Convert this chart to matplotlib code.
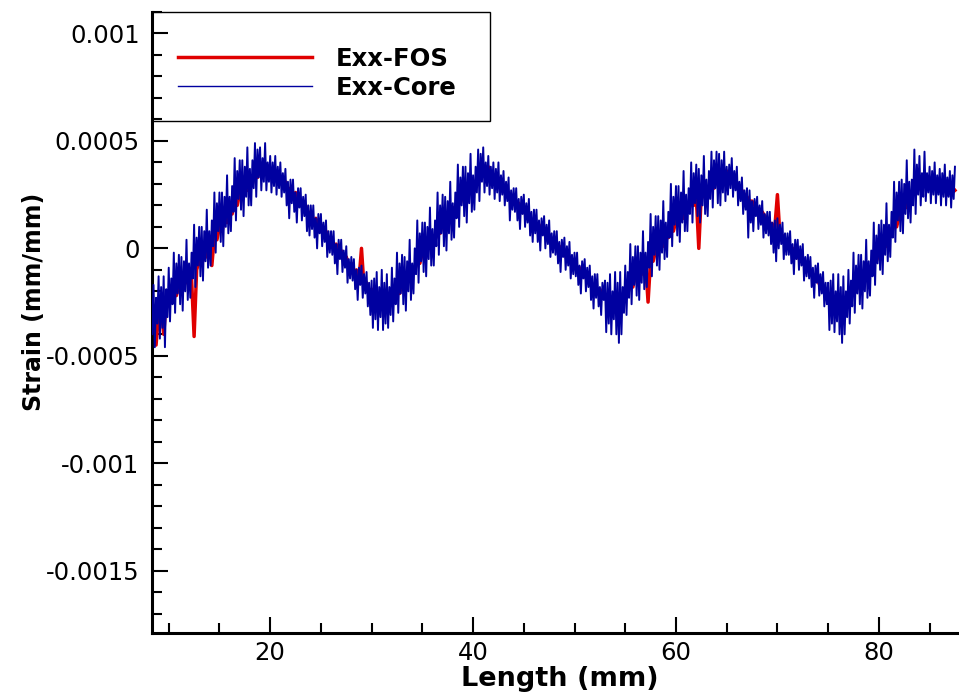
"""
Strain along the sample: fibre optic sensor (FOS) vs. core strain (Exx)
"""

import numpy as np
import matplotlib
matplotlib.use('Agg')
import matplotlib.pyplot as plt
from matplotlib.patches import Rectangle
from matplotlib.ticker import MultipleLocator

# sample positions (mm)
length_core_mm = np.arange(8.125, 87.51, 0.125)   # 8 samples per mm
length_fos_mm = np.arange(8.25, 87.51, 0.25)      # 4 samples per mm

# Exx-Core, in 1e-4 mm/mm, one row per mm (n+1/8 ... n+1)
exx_core_e4 = [
    -4.6, -2.1, -4.0, -1.7, -4.6, -2.3, -3.5, -1.3,    # 8
    -4.2, -1.8, -3.7, -1.3, -4.6, -1.9, -3.2, -0.9,    # 9
    -3.4, -1.4, -2.6, -0.2, -3.0, -0.7, -2.1, -0.3,    # 10
    -2.6, -0.4, -2.9, -0.6, -2.0, 0.4, -2.4, -0.7,     # 11
    -2.3, -0.2, -1.4, 1.1, -1.8, 0.5, -0.8, 1.0,       # 12
    -1.3, 1.0, -1.5, 0.8, -0.6, 1.8, -0.9, 0.8,        # 13
    -0.8, 1.3, 0.1, 2.6, -0.2, 2.1, 0.8, 2.6,          # 14
    0.3, 2.6, 0.1, 2.4, 1.0, 3.4, 0.7, 2.4,            # 15
    0.8, 2.9, 1.7, 4.2, 1.3, 3.6, 2.3, 4.1,            # 16
    1.8, 4.1, 1.5, 3.8, 2.4, 4.7, 2.0, 3.7,            # 17
    2.0, 4.1, 2.8, 4.9, 2.4, 4.6, 3.3, 4.7,            # 18
    2.7, 4.2, 3.1, 4.9, 2.7, 4.0, 3.1, 4.3,            # 19
    2.6, 4.0, 2.9, 4.3, 2.5, 3.8, 2.8, 4.0,            # 20
    2.4, 3.5, 2.6, 3.7, 2.0, 3.1, 1.4, 3.2,            # 21
    2.1, 3.2, 1.7, 2.6, 1.2, 2.8, 1.9, 2.8,            # 22
    1.3, 2.4, 1.5, 2.5, 0.8, 2.0, 0.6, 2.0,            # 23
    0.9, 2.0, 0.5, 1.4, 0.0, 1.6, 0.7, 1.6,            # 24
    0.1, 1.2, 0.3, 1.3, -0.4, 0.8, -0.2, 0.8,          # 25
    -0.3, 0.8, -0.7, 0.2, -1.2, 0.4, -0.5, 0.4,        # 26
    -1.1, -0.1, -0.9, 0.1, -1.6, -0.5, -1.4, -0.4,     # 27
    -1.5, -0.5, -1.9, -1.0, -2.4, -0.9, -1.7, -0.8,    # 28
    -2.3, -1.2, -2.1, -1.1, -2.7, -1.6, -3.1, -1.5,    # 29
    -3.7, -1.4, -3.3, -1.1, -3.8, -1.8, -3.2, -1.0,    # 30
    -3.8, -1.6, -3.5, -1.2, -3.7, -1.8, -3.1, -0.9,    # 31
    -3.4, -1.4, -2.6, -0.2, -3.0, -0.7, -2.1, -0.3,    # 32
    -2.6, -0.4, -2.9, -0.6, -2.0, 0.4, -2.4, -0.7,     # 33
    -2.1, 0.0, -1.2, 1.3, -1.6, 0.7, -0.6, 1.2,        # 34
    -1.1, 1.2, -1.3, 1.0, -0.5, 1.9, -0.8, 0.9,        # 35
    -0.8, 1.3, 0.1, 2.6, -0.3, 2.0, 0.7, 2.5,          # 36
    0.1, 2.4, -0.1, 2.2, 0.7, 3.1, 0.4, 2.1,           # 37
    0.5, 2.6, 1.4, 3.9, 1.0, 3.3, 2.0, 3.8,            # 38
    1.5, 3.8, 1.2, 3.5, 2.1, 4.4, 1.7, 3.4,            # 39
    1.8, 3.8, 2.6, 4.6, 2.2, 4.4, 3.1, 4.7,            # 40
    2.6, 4.0, 2.9, 4.3, 2.5, 3.8, 2.8, 4.0,            # 41
    2.3, 3.7, 2.6, 4.0, 2.2, 3.4, 2.5, 3.6,            # 42
    2.0, 3.1, 2.2, 3.3, 1.3, 2.7, 1.8, 2.8,            # 43
    1.7, 2.8, 1.3, 2.3, 0.9, 2.4, 1.6, 2.5,            # 44
    1.0, 2.1, 1.2, 2.3, 0.6, 1.7, 0.3, 1.8,            # 45
    0.7, 1.8, 0.3, 1.3, -0.1, 1.4, 0.6, 1.5,           # 46
    0.0, 1.1, 0.2, 1.3, -0.4, 0.7, -0.2, 0.8,          # 47
    -0.3, 0.8, -0.7, 0.3, -1.1, 0.4, -0.4, 0.5,        # 48
    -1.0, 0.1, -0.8, 0.3, -1.4, -0.3, -1.2, -0.2,      # 49
    -1.3, -0.2, -1.7, -0.8, -2.1, -0.6, -1.4, -0.5,    # 50
    -2.0, -0.9, -1.8, -0.8, -2.4, -1.3, -2.8, -1.2,    # 51
    -2.3, -1.2, -2.7, -1.8, -3.1, -1.6, -2.4, -1.5,    # 52
    -3.9, -1.6, -3.5, -1.2, -4.0, -2.0, -3.3, -1.1,    # 53
    -4.0, -1.6, -4.4, -1.1, -4.0, -1.8, -3.0, -0.8,    # 54
    -3.1, -1.1, -2.3, 0.2, -2.6, -0.4, -1.7, 0.1,      # 55
    -2.2, 0.1, -2.4, -0.2, -1.6, 0.8, -1.9, -0.2,      # 56
    -1.8, 0.3, -0.9, 1.6, -1.3, 1.0, -0.3, 1.5,        # 57
    -0.8, 1.5, -1.0, 1.3, -0.2, 2.2, -0.5, 1.2,        # 58
    -0.4, 1.7, 0.5, 3.0, 0.1, 2.4, 1.1, 2.9,           # 59
    0.6, 2.9, 0.3, 2.6, 1.2, 3.6, 0.8, 2.5,            # 60
    0.8, 2.8, 1.6, 4.0, 1.2, 3.5, 2.1, 3.9,            # 61
    1.5, 3.7, 1.2, 3.4, 2.0, 4.3, 1.6, 3.2,            # 62
    1.5, 3.6, 2.3, 4.5, 1.9, 4.1, 2.8, 4.5,            # 63
    2.1, 4.4, 2.0, 4.1, 2.6, 4.5, 2.2, 3.8,            # 64
    2.5, 3.9, 2.8, 4.2, 2.4, 3.6, 2.7, 3.8,            # 65
    2.0, 3.1, 2.2, 3.3, 1.6, 2.7, 1.8, 2.8,            # 66
    0.5, 2.7, 1.2, 2.2, 0.8, 2.3, 1.5, 2.4,            # 67
    0.9, 2.0, 1.1, 2.2, 0.5, 1.6, 0.7, 1.7,            # 68
    0.6, 1.7, 0.2, 1.2, -0.2, 1.3, -0.6, 1.4,          # 69
    0.0, 1.1, 0.2, 1.2, -0.5, 0.7, -0.3, 0.7,          # 70
    -0.3, 0.8, -0.7, 0.2, -1.2, 0.4, -0.5, 0.4,        # 71
    -1.0, 0.1, -0.8, 0.2, -1.5, -0.4, -1.3, -0.3,      # 72
    -1.4, -0.4, -1.8, -0.9, -2.3, -0.8, -1.6, -0.7,    # 73
    -2.2, -1.2, -2.1, -1.1, -2.7, -1.6, -2.6, -1.6,    # 74
    -3.8, -1.5, -3.5, -1.2, -3.9, -2.0, -3.4, -1.2,    # 75
    -4.0, -1.8, -4.4, -1.3, -4.0, -2.0, -3.2, -1.0,    # 76
    -3.5, -1.5, -2.7, -0.2, -3.0, -0.8, -2.1, -0.3,    # 77
    -2.6, -0.3, -2.8, -0.6, -2.0, 0.4, -2.3, -0.6,     # 78
    -2.2, -0.1, -1.3, 1.2, -1.7, 0.6, -0.7, 1.1,       # 79
    -1.0, 1.3, -1.2, 1.1, -0.3, 2.1, -0.6, 1.1,        # 80
    -0.4, 1.7, 0.5, 3.1, 0.3, 2.6, 1.3, 3.1,           # 81
    0.8, 3.2, 0.7, 3.0, 1.6, 4.1, 1.4, 3.1,            # 82
    1.2, 3.2, 2.0, 4.6, 1.6, 3.9, 2.5, 4.3,            # 83
    2.0, 3.5, 2.4, 4.5, 2.2, 3.5, 2.6, 3.8,            # 84
    2.1, 3.6, 2.5, 4.0, 2.1, 3.4, 2.5, 3.7,            # 85
    2.0, 3.5, 2.4, 3.9, 2.0, 3.3, 2.4, 3.6,            # 86
    1.9, 3.4, 2.3, 3.8,                                # 87
]

# Exx-FOS, in 1e-4 mm/mm, one row per 3 mm (n+1/4 ... n+3)
exx_fos_e4 = [
    -3.6, -3.2, -4.5, -3.0,   -2.6, -4.0, -2.5, -2.2,   -2.4, -1.9, -2.2, -1.7,
    -1.9, -1.4, -1.6, -1.2,   -1.4, -4.1, -1.0, -0.6,   -0.8, -0.2, -0.4, 0.2,
    -0.8, 0.6, 0.4, 1.0,      0.8, 1.4, 1.2, 1.8,       1.6, 2.2, 2.0, 2.6,
    2.4, 2.9, 2.7, 3.3,       3.0, 3.5, 3.3, 3.7,       3.4, 3.8, 3.5, 3.6,
    3.3, 3.5, 3.2, 3.3,       2.9, 3.1, 2.7, 2.8,       2.4, 2.6, 2.2, 2.3,
    1.8, 2.0, 1.6, 1.7,       1.2, 1.4, 1.0, 1.1,       0.6, 0.8, 0.4, 0.5,
    0.0, 0.2, -0.2, -0.1,     -0.6, -0.4, -0.8, -0.7,   -1.2, -1.0, -1.5, 0.0,
    -1.8, -1.6, -2.0, -1.9,   -2.3, -2.1, -2.5, -2.3,   -2.6, -2.3, -2.5, -2.2,
    -2.3, -1.9, -2.1, -1.6,   -1.7, -1.3, -1.4, -0.9,   -1.0, -0.6, -0.7, -0.2,
    -0.3, 0.1, 0.0, 0.5,      0.4, 0.8, 0.7, 1.2,       1.1, 1.5, 1.4, 1.9,
    1.8, 2.2, 2.1, 2.5,       2.4, 2.8, 2.7, 3.1,       3.0, 3.4, 3.3, 3.6,
    3.5, 3.8, 3.3, 3.2,       3.0, 3.1, 2.8, 2.8,       2.5, 2.6, 2.3, 2.3,
    2.0, 2.1, 1.8, 1.8,       1.5, 1.6, 1.3, 1.3,       1.0, 1.1, 0.8, 0.8,
    0.5, 0.6, 0.3, 0.3,       0.0, 0.1, -0.2, -0.2,     -0.5, -0.4, -0.7, -0.7,
    -1.0, -0.9, -1.2, -1.2,   -1.5, -1.4, -1.7, -1.7,   -2.0, -1.9, -2.2, -2.2,
    -2.4, -2.3, -2.6, -2.5,   -2.6, -2.2, -2.4, -2.0,   -2.1, -1.7, -1.8, -1.3,
    -1.5, -1.1, -1.2, -0.7,   -2.5, -0.5, -0.6, -0.1,   -0.2, 0.2, 0.1, 0.6,
    0.5, 0.9, 0.8, 1.3,       1.2, 1.6, 1.4, 1.9,       1.8, 2.1, 2.0, 2.4,
    0.0, 2.6, 2.4, 2.8,       2.7, 3.0, 2.8, 3.2,       3.1, 3.4, 3.3, 3.6,
    3.5, 3.3, 3.0, 3.0,       2.8, 2.7, 2.5, 2.4,       2.2, 2.2, 2.0, 1.9,
    1.7, 1.7, 1.5, 1.4,       1.2, 1.1, 1.0, 2.5,       0.6, 0.6, 0.4, 0.3,
    0.0, 0.0, -0.2, -0.3,     -0.6, -0.6, -0.8, -0.9,   -1.2, -1.2, -1.4, -1.5,
    -1.8, -1.9, -2.1, -2.2,   -2.4, -2.6, -2.8, -2.7,   -2.8, -2.5, -2.6, -2.3,
    -2.3, -1.9, -2.0, -1.6,   -1.6, -1.2, -1.3, -0.9,   -0.9, -0.5, -0.6, -0.2,
    -0.2, 0.2, 0.1, 0.6,      0.7, 1.1, 1.0, 1.5,       1.6, 2.0, 1.9, 2.4,
    2.4, 2.7, 2.6, 2.9,       2.8, 3.0, 2.8, 3.0,       2.7, 2.9, 2.7, 2.9,
    2.6, 2.8, 2.5, 2.7,       2.6, 2.7,
]

y_ticks = [-0.0015, -0.001, -0.0005, 0, 0.0005, 0.001]
y_tick_labels = ['-0.0015', '-0.001', '-0.0005', '0', '0.0005', '0.001']
x_ticks = [20, 40, 60, 80]
x_tick_labels = ['20', '40', '60', '80']

core = np.array(exx_core_e4) * 1e-4
fos = np.array(exx_fos_e4) * 1e-4

plt.rcParams['font.family'] = ['DejaVu Sans']

fig = plt.figure(figsize=(9.59, 6.93), dpi=100)
ax = fig.add_axes([152 / 959, 1 - 633 / 693, 1 - 152 / 959, (633 - 12) / 693])

ax.plot(length_fos_mm, fos, color='#e00000', lw=2.5, label='Exx-FOS', zorder=2)
ax.plot(length_core_mm, core, color='#0000a0', lw=1.4, label='Exx-Core', zorder=3)

ax.set_xlim(8.35, 87.9)
ax.set_ylim(-0.00179, 0.0011)
ax.set_xticks(x_ticks)
ax.set_xticklabels(x_tick_labels)
ax.set_yticks(y_ticks)
ax.set_yticklabels(y_tick_labels)
ax.xaxis.set_minor_locator(MultipleLocator(5))
ax.yaxis.set_minor_locator(MultipleLocator(0.0001))

ax.tick_params(which='both', direction='in', width=1.5, labelsize=17.5)
ax.tick_params(which='major', length=11.5)
ax.tick_params(which='minor', length=7)
ax.tick_params(axis='x', pad=6)
ax.tick_params(axis='y', pad=9)
ax.tick_params(top=False, right=False)

for side in ['top', 'right']:
    ax.spines[side].set_visible(False)
for side in ['left', 'bottom']:
    ax.spines[side].set_linewidth(2.2)

# legend box sitting in the top-left corner
ax.add_patch(Rectangle((0, 1 - 109 / 621), 338 / 807, 109 / 621,
                       transform=ax.transAxes, fill=False, edgecolor='black',
                       lw=1.0, clip_on=False, zorder=5))
leg = ax.legend(loc='upper left', bbox_to_anchor=(26 / 807, 1 - 35 / 621),
                frameon=False, borderpad=0, borderaxespad=0,
                handlelength=5.5, handletextpad=1.0, labelspacing=0.2,
                prop={'weight': 'bold', 'size': 17.5})
leg.get_lines()[1].set_linewidth(1.0)

fig.text(34 / 959, 1 - 302 / 693, 'Strain (mm/mm)', rotation=90,
         ha='center', va='center', fontsize=17, fontweight='bold')
fig.text(560 / 959, 1 - 666 / 693, 'Length (mm)', ha='center', va='top',
         fontsize=19.5, fontweight='bold')

fig.savefig('out.png', dpi=100)
plt.close(fig)
